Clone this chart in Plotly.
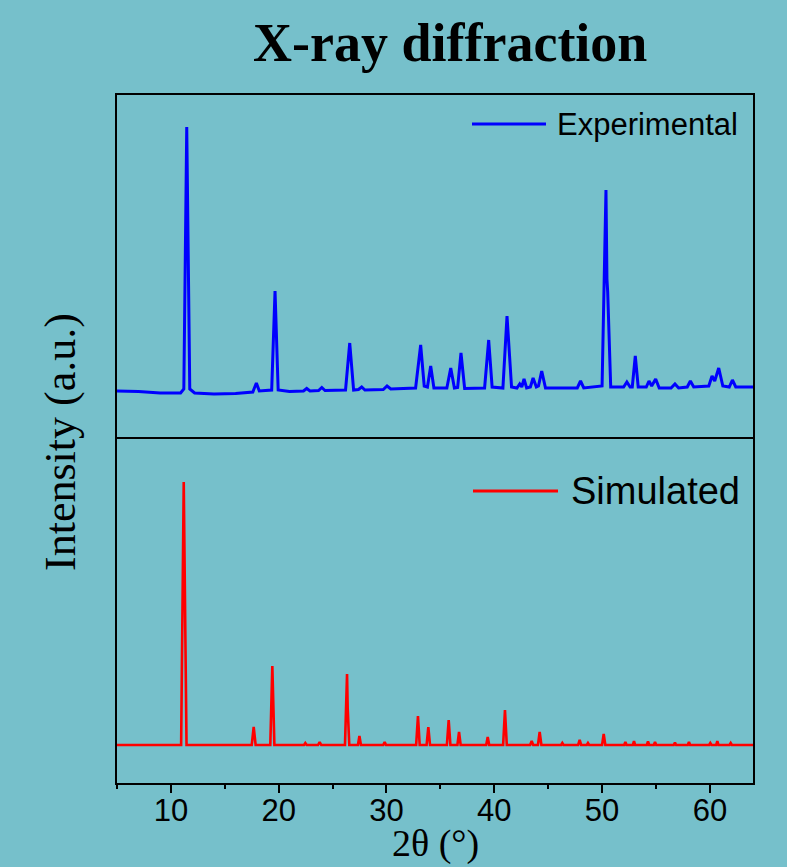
import plotly.graph_objects as go

# ---------------- data ----------------
# Experimental pattern: 2theta (deg) and intensity (arb. units)
exp_two_theta = [5.0, 7.0, 9.0, 10.9, 11.2, 11.47, 11.75, 12.2, 14.0, 16.0, 17.6, 17.93, 18.2,
                 19.35, 19.66, 19.95, 21.0, 22.3, 22.6, 22.9, 23.7, 24.0, 24.3, 26.2, 26.59, 26.95,
                 27.4, 27.7, 28.0, 29.7, 30.05, 30.4, 32.7, 33.17, 33.5, 33.8, 34.1, 34.4, 35.6,
                 35.96, 36.3, 36.6, 36.91, 37.25, 39.1, 39.48, 39.8, 40.8, 41.18, 41.6, 42.1, 42.36,
                 42.55, 42.76, 43.0, 43.35, 43.6, 43.9, 44.1, 44.4, 44.75, 47.7, 48.0, 48.3, 50.0,
                 50.36, 50.45, 50.52, 50.8, 52.0, 52.3, 52.6, 52.8, 53.08, 53.35, 54.1, 54.35, 54.6,
                 54.97, 55.3, 56.4, 56.76, 57.1, 57.9, 58.19, 58.5, 59.9, 60.2, 60.45, 60.82, 61.2,
                 61.8, 62.09, 62.4, 64.0]
exp_intensity = [48, 47.5, 46, 46, 50, 312, 50, 46, 45, 45.5, 47, 56, 48,
                 49, 148, 49, 47.5, 48, 50.5, 48, 48.5, 51.5, 48.5, 49, 96, 49,
                 49.5, 52, 49, 49.5, 53, 50, 51, 94, 53, 52, 73, 51, 51,
                 71, 51, 51.5, 86, 50.5, 51, 99, 52, 51, 123, 52, 51, 55,
                 52, 60, 51, 52, 61, 52, 53, 68, 51, 51, 58, 51, 53,
                 249, 160, 147, 52, 52, 57, 52, 52, 83, 52, 52, 58, 53,
                 60, 51, 51, 55, 51, 52, 58, 52, 53, 63, 58, 71, 53,
                 52, 59, 52, 52]

# Simulated pattern
sim_two_theta = [5.0, 10.95, 11.19, 11.45, 17.5, 17.68, 17.86, 19.22, 19.41, 19.6, 22.35, 22.47,
                 22.6, 23.65, 23.8, 23.95, 26.15, 26.34, 26.4, 26.55, 27.35, 27.49, 27.63, 29.7,
                 29.83, 29.96, 32.75, 32.92, 33.08, 33.72, 33.88, 34.04, 35.6, 35.77, 35.93, 36.58,
                 36.73, 36.88, 39.25, 39.39, 39.53, 40.82, 40.99, 41.16, 43.33, 43.47, 43.61, 44.05,
                 44.21, 44.37, 46.2, 46.31, 46.42, 47.78, 47.92, 48.06, 48.58, 48.69, 48.8, 50.0,
                 50.15, 50.3, 52.05, 52.16, 52.27, 52.85, 52.96, 53.07, 54.15, 54.26, 54.37, 54.8,
                 54.91, 55.02, 56.65, 56.76, 56.87, 57.95, 58.06, 58.17, 59.93, 60.04, 60.15, 60.58,
                 60.69, 60.8, 61.82, 61.93, 62.04, 64.0]
sim_intensity = [38, 38, 301, 38, 38, 56, 38, 38, 117, 38, 38, 40,
                 38, 38, 41, 38, 38, 109, 75, 38, 38, 47, 38, 38,
                 41, 38, 38, 67, 38, 38, 56, 38, 38, 63, 38, 38,
                 51, 38, 38, 46, 38, 38, 73, 38, 38, 42, 38, 38,
                 51, 38, 38, 40, 38, 38, 43, 38, 38, 40, 38, 38,
                 49, 38, 38, 41, 38, 38, 42, 38, 38, 41.5, 38, 38,
                 41, 38, 38, 40.5, 38, 38, 41, 38, 38, 40, 38, 38,
                 42, 38, 38, 40, 38, 38]

x_tick_values = [10, 20, 30, 40, 50, 60]
x_tick_labels = ["10", "20", "30", "40", "50", "60"]

series_names = ["Experimental", "Simulated"]
series_colors = ["#0000FF", "#FF0000"]

# ---------------- layout helpers ----------------
W, H = 787, 867
L, R, T, B = 117, 34, 95, 84
PW, PH = W - L - R, H - T - B
BG = "#76C0CB"


def px(xp):
    return (xp - L) / PW


def py(yp):
    return (H - B - yp) / PH


fig = go.Figure()

fig.add_trace(go.Scatter(x=exp_two_theta, y=exp_intensity, mode="lines",
                         line=dict(color=series_colors[0], width=3),
                         name=series_names[0], xaxis="x2", yaxis="y2", showlegend=False))
fig.add_trace(go.Scatter(x=sim_two_theta, y=sim_intensity, mode="lines",
                         line=dict(color=series_colors[1], width=2.6),
                         name=series_names[1], xaxis="x", yaxis="y", showlegend=False))

line_style = dict(showline=True, linecolor="black", linewidth=2,
                  showgrid=False, zeroline=False)

fig.update_layout(
    width=W, height=H,
    margin=dict(l=L, r=R, t=T, b=B, pad=0),
    paper_bgcolor=BG, plot_bgcolor=BG,
    xaxis=dict(domain=[0, 1], anchor="y", range=[5, 64], mirror=True,
               tickmode="array", tickvals=x_tick_values, ticktext=x_tick_labels,
               ticks="outside", ticklen=8, tickwidth=2, tickcolor="black",
               ticklabelstandoff=-9,
               minor=dict(tickvals=[5, 15, 25, 35, 45, 55], ticks="outside",
                          ticklen=4, tickwidth=2, tickcolor="black"),
               tickfont=dict(family="Liberation Sans, Arial", size=31, color="black"),
               **line_style),
    yaxis=dict(domain=[0, 0.5], anchor="x", range=[0, 344], showticklabels=False,
               ticks="", mirror=True, **line_style),
    xaxis2=dict(domain=[0, 1], anchor="y2", matches="x", range=[5, 64], side="top",
                showticklabels=False, ticks="", mirror=False, **line_style),
    yaxis2=dict(domain=[0.5, 1], anchor="x2", range=[0, 344], showticklabels=False,
                ticks="", mirror=True, **line_style),
)

# Legends drawn as line samples + labels
fig.add_shape(type="line", xref="paper", yref="paper",
              x0=px(472), x1=px(546), y0=py(124), y1=py(124),
              line=dict(color=series_colors[0], width=3))
fig.add_annotation(text=series_names[0], xref="paper", yref="paper",
                   x=px(555), y=py(125), xanchor="left", yanchor="middle", showarrow=False,
                   font=dict(family="Liberation Sans, Arial", size=31, color="black"))
fig.add_shape(type="line", xref="paper", yref="paper",
              x0=px(473), x1=px(558), y0=py(491), y1=py(491),
              line=dict(color=series_colors[1], width=3))
fig.add_annotation(text=series_names[1], xref="paper", yref="paper",
                   x=px(569), y=py(491), xanchor="left", yanchor="middle", showarrow=False,
                   font=dict(family="Liberation Sans, Arial", size=38, color="black"))

# Title and axis titles
fig.add_annotation(text="<b>X-ray diffraction</b>", xref="paper", yref="paper",
                   x=px(450), y=py(43), xanchor="center", yanchor="middle", showarrow=False,
                   font=dict(family="Liberation Serif, Times New Roman", size=54, color="black"))
fig.add_annotation(text="Intensity (a.u.)", xref="paper", yref="paper",
                   x=px(60), y=py(442), xanchor="center", yanchor="middle", showarrow=False,
                   textangle=-90,
                   font=dict(family="Liberation Serif, Times New Roman", size=44, color="black"))
fig.add_annotation(text="2θ (°)", xref="paper", yref="paper",
                   x=px(435), y=py(843), xanchor="center", yanchor="middle", showarrow=False,
                   font=dict(family="Liberation Serif, Times New Roman", size=38, color="black"))

fig.write_html("out.html")
